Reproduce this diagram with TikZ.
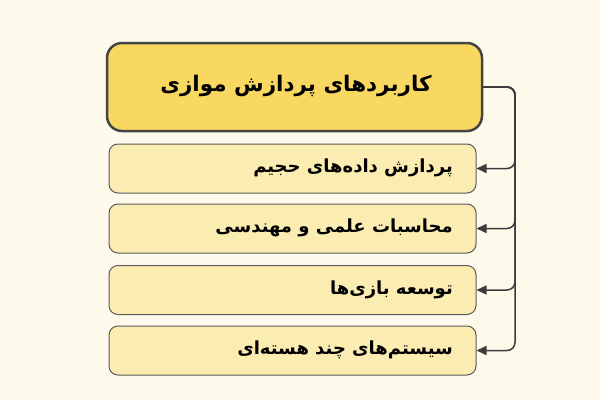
\documentclass[tikz,border=0pt]{standalone}
\usepackage{fontspec}
\usetikzlibrary{arrows.meta}
\TeXXeTstate=1
\newfontfamily\arabicfont[Script=Arabic]{DejaVu Sans}
\definecolor{bgc}{HTML}{FDFAEB}
\definecolor{titlefill}{HTML}{F9D862}
\definecolor{titleedge}{HTML}{444444}
\definecolor{itemfill}{HTML}{FBECB2}
\definecolor{itemedge}{HTML}{5A5A5A}
\definecolor{connc}{HTML}{3C3C3C}
\tikzset{
  titlebox/.style={draw=titleedge, line width=2.5pt, fill=titlefill, rounded corners=15pt, minimum width=375pt, minimum height=88pt, inner sep=0pt},
  itembox/.style={draw=itemedge, line width=1pt, fill=itemfill, rounded corners=9pt, minimum width=367pt, minimum height=49pt, inner sep=0pt},
  titletext/.style={font=\arabicfont\bfseries\fontsize{21.5}{26}\selectfont, text=black, inner sep=0pt},
  itemtext/.style={font=\arabicfont\bfseries\fontsize{18}{22}\selectfont, text=black, inner sep=0pt, anchor=east},
  conn/.style={draw=connc, line width=1.5pt, rounded corners=8pt, -{Triangle[length=10pt,width=9pt]}}
}
\begin{document}
\begin{tikzpicture}[x=1pt,y=-1pt]
\useasboundingbox[fill=bgc] (0,0) rectangle (600,400);
\node[titlebox] (t) at (294.5,87) {};
\node[titletext] (tt) at (296,86) {\beginR کاربردهای پردازش موازی\endR};
\node[itembox] (i1) at (292.5,168.5) {};
\node[itembox] (i2) at (292.5,228.5) {};
\node[itembox] (i3) at (292.5,290) {};
\node[itembox] (i4) at (292.5,350.5) {};
\node[itemtext] (l1) at (453,168) {\beginR پردازش داده‌های حجیم\endR};
\node[itemtext] (l2) at (453,228) {\beginR محاسبات علمی و مهندسی\endR};
\node[itemtext] (l3) at (453,289.5) {\beginR توسعه بازی‌ها\endR};
\node[itemtext] (l4) at (453,350) {\beginR سیستم‌های چند هسته‌ای\endR};
\coordinate (trunk) at (515,87);
\foreach \i in {i1,i2,i3,i4}{
  \draw[conn] (t.east) -- (trunk) |- (\i.east);
}
\end{tikzpicture}
\end{document}
